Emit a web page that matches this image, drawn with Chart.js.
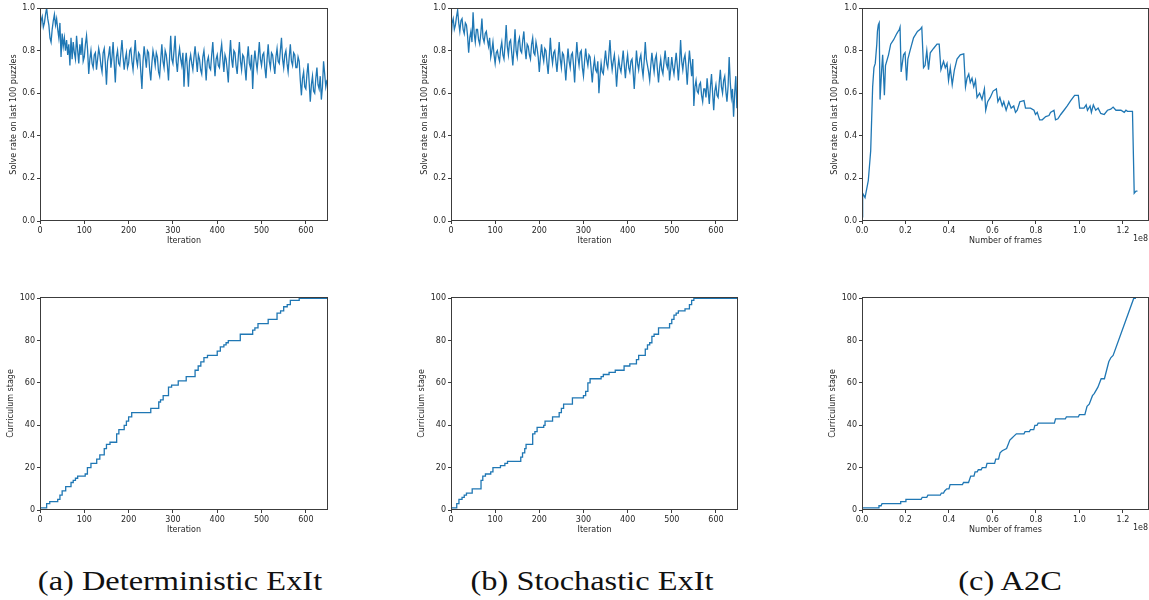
<!DOCTYPE html>
<html>
<head>
<meta charset="utf-8">
<script src="https://cdn.jsdelivr.net/npm/chart.js@4.4.1/dist/chart.umd.min.js"></script>
<style>
  html, body { margin: 0; padding: 0; background: #fff; overflow: hidden; }
  body { width: 1149px; height: 600px; position: relative; }
  canvas { position: absolute; }
  .cap { position: absolute; top: 566px; font-family: 'Liberation Serif', serif; font-size: 27px;
         line-height: 30px; color: #111; white-space: nowrap;
         transform: translateX(-50%) scaleX(1.2); }
</style>
</head>
<body>
<canvas id="detRate" width="330" height="246" style="left:0;top:0"></canvas>
<canvas id="stoRate" width="330" height="246" style="left:411px;top:0"></canvas>
<canvas id="a2cRate" width="327" height="246" style="left:822px;top:0"></canvas>
<canvas id="detStage" width="330" height="246" style="left:0;top:289px"></canvas>
<canvas id="stoStage" width="330" height="246" style="left:411px;top:289px"></canvas>
<canvas id="a2cStage" width="327" height="246" style="left:822px;top:289px"></canvas>
<div class="cap" style="left:180px">(a) Deterministic ExIt</div>
<div class="cap" style="left:592px">(b) Stochastic ExIt</div>
<div class="cap" style="left:1010px">(c) A2C</div>
<script>
/* ===============================
   data
================================ */
const ITER_STEP = 2.5; // solve rate read every 2.5 iterations

const detRate = [
  0.88, 0.94, 0.96, 0.91, 0.93, 0.97, 1.00, 0.95, 0.92, 0.86,
  0.84, 0.90, 0.94, 0.97, 0.92, 0.95, 0.90, 0.86, 0.93, 0.77,
  0.88, 0.82, 0.86, 0.80, 0.85, 0.78, 0.83, 0.73, 0.86, 0.76,
  0.84, 0.79, 0.76, 0.87, 0.80, 0.74, 0.83, 0.78, 0.86, 0.75,
  0.77, 0.83, 0.87, 0.80, 0.69, 0.76, 0.80, 0.74, 0.72, 0.78,
  0.79, 0.71, 0.76, 0.81, 0.78, 0.73, 0.70, 0.79, 0.81, 0.74,
  0.64, 0.75, 0.78, 0.82, 0.72, 0.77, 0.84, 0.74, 0.65, 0.77,
  0.80, 0.74, 0.73, 0.79, 0.85, 0.77, 0.71, 0.76, 0.79, 0.72,
  0.74, 0.80, 0.81, 0.75, 0.71, 0.78, 0.85, 0.76, 0.73, 0.79,
  0.78, 0.70, 0.62, 0.75, 0.82, 0.77, 0.72, 0.80, 0.79, 0.71,
  0.66, 0.74, 0.80, 0.77, 0.73, 0.79, 0.77, 0.70, 0.68, 0.76,
  0.83, 0.75, 0.72, 0.80, 0.78, 0.73, 0.66, 0.77, 0.87, 0.76,
  0.74, 0.80, 0.87, 0.75, 0.70, 0.77, 0.81, 0.76, 0.73, 0.79,
  0.63, 0.74, 0.79, 0.72, 0.63, 0.75, 0.78, 0.74, 0.71, 0.77,
  0.82, 0.76, 0.70, 0.78, 0.76, 0.71, 0.69, 0.77, 0.80, 0.74,
  0.66, 0.75, 0.77, 0.72, 0.71, 0.78, 0.84, 0.75, 0.68, 0.76,
  0.78, 0.73, 0.72, 0.79, 0.83, 0.76, 0.70, 0.78, 0.76, 0.71,
  0.65, 0.77, 0.85, 0.76, 0.72, 0.80, 0.79, 0.73, 0.69, 0.77,
  0.84, 0.75, 0.71, 0.78, 0.77, 0.72, 0.66, 0.76, 0.82, 0.74,
  0.72, 0.78, 0.62, 0.74, 0.80, 0.75, 0.71, 0.77, 0.84, 0.76,
  0.73, 0.78, 0.79, 0.72, 0.67, 0.76, 0.83, 0.75, 0.72, 0.79,
  0.78, 0.73, 0.69, 0.77, 0.81, 0.75, 0.74, 0.80, 0.86, 0.76,
  0.72, 0.78, 0.80, 0.74, 0.70, 0.77, 0.83, 0.75, 0.73, 0.79,
  0.78, 0.72, 0.72, 0.77, 0.75, 0.66, 0.59, 0.67, 0.70, 0.63,
  0.62, 0.69, 0.74, 0.65, 0.56, 0.64, 0.68, 0.61, 0.60, 0.67,
  0.72, 0.64, 0.62, 0.68, 0.57, 0.63, 0.75, 0.69, 0.63, 0.66,
  0.66
];

const stoRate = [
  0.84, 0.93, 0.95, 0.90, 0.92, 0.96, 0.99, 0.93, 0.89, 0.94,
  0.95, 0.90, 0.88, 0.93, 0.92, 0.87, 0.79, 0.86, 0.89, 0.84,
  0.98, 0.88, 0.84, 0.90, 0.90, 0.85, 0.83, 0.88, 0.95, 0.86,
  0.84, 0.88, 0.89, 0.85, 0.82, 0.86, 0.77, 0.80, 0.84, 0.78,
  0.74, 0.79, 0.80, 0.77, 0.75, 0.81, 0.84, 0.78, 0.76, 0.83,
  0.92, 0.82, 0.78, 0.84, 0.85, 0.79, 0.73, 0.81, 0.90, 0.80,
  0.77, 0.84, 0.86, 0.80, 0.79, 0.85, 0.89, 0.81, 0.76, 0.83,
  0.82, 0.78, 0.76, 0.83, 0.86, 0.79, 0.78, 0.84, 0.81, 0.77,
  0.70, 0.77, 0.83, 0.78, 0.75, 0.81, 0.80, 0.74, 0.69, 0.77,
  0.86, 0.78, 0.74, 0.79, 0.80, 0.75, 0.70, 0.77, 0.84, 0.76,
  0.72, 0.79, 0.78, 0.73, 0.66, 0.74, 0.81, 0.75, 0.72, 0.78,
  0.79, 0.73, 0.65, 0.76, 0.84, 0.77, 0.73, 0.79, 0.80, 0.72,
  0.68, 0.75, 0.81, 0.76, 0.73, 0.78, 0.77, 0.71, 0.65, 0.72,
  0.76, 0.71, 0.70, 0.75, 0.60, 0.68, 0.74, 0.70, 0.69, 0.75,
  0.80, 0.74, 0.72, 0.78, 0.85, 0.76, 0.71, 0.75, 0.78, 0.72,
  0.63, 0.71, 0.76, 0.72, 0.70, 0.75, 0.80, 0.73, 0.67, 0.74,
  0.78, 0.72, 0.70, 0.75, 0.76, 0.70, 0.62, 0.71, 0.80, 0.74,
  0.71, 0.76, 0.78, 0.72, 0.68, 0.75, 0.84, 0.76, 0.73, 0.70,
  0.66, 0.73, 0.79, 0.74, 0.70, 0.76, 0.78, 0.71, 0.65, 0.72,
  0.76, 0.71, 0.69, 0.75, 0.80, 0.74, 0.72, 0.77, 0.66, 0.71,
  0.77, 0.72, 0.69, 0.74, 0.79, 0.73, 0.66, 0.74, 0.85, 0.75,
  0.71, 0.76, 0.78, 0.72, 0.64, 0.73, 0.80, 0.74, 0.68, 0.76,
  0.54, 0.63, 0.66, 0.61, 0.60, 0.64, 0.65, 0.59, 0.56, 0.62,
  0.62, 0.58, 0.67, 0.61, 0.55, 0.63, 0.69, 0.60, 0.52, 0.61,
  0.64, 0.59, 0.58, 0.65, 0.71, 0.63, 0.60, 0.66, 0.68, 0.61,
  0.56, 0.63, 0.77, 0.65, 0.58, 0.62, 0.49, 0.60, 0.68, 0.53,
  0.64
];

// A2C, frames in units of 1e8
const a2cFrames = [
  0, 0.003, 0.014, 0.029, 0.040, 0.049, 0.055, 0.061, 0.068, 0.071,
  0.075, 0.079, 0.083, 0.091, 0.095, 0.103, 0.108, 0.122, 0.132, 0.145,
  0.160, 0.172, 0.175, 0.180, 0.191, 0.198, 0.205, 0.211, 0.221, 0.237,
  0.255, 0.268, 0.275, 0.283, 0.290, 0.298, 0.306, 0.314, 0.329, 0.345,
  0.355, 0.363, 0.375, 0.383, 0.391, 0.398, 0.406, 0.415, 0.425, 0.437,
  0.452, 0.468, 0.476, 0.483, 0.491, 0.498, 0.506, 0.514, 0.522, 0.529,
  0.541, 0.552, 0.563, 0.569, 0.578, 0.590, 0.603, 0.618, 0.625, 0.634,
  0.645, 0.652, 0.663, 0.675, 0.686, 0.698, 0.706, 0.714, 0.726, 0.745,
  0.752, 0.775, 0.791, 0.798, 0.806, 0.817, 0.829, 0.845, 0.860, 0.867,
  0.883, 0.890, 0.901, 0.914, 0.929, 0.944, 0.960, 0.978, 0.995, 1.001,
  1.021, 1.031, 1.037, 1.049, 1.055, 1.064, 1.075, 1.086, 1.098, 1.114,
  1.129, 1.144, 1.155, 1.168, 1.191, 1.206, 1.214, 1.221, 1.240, 1.244,
  1.252, 1.260, 1.267
];
const a2cRate = [
  0.02, 0.13, 0.11, 0.19, 0.33, 0.63, 0.72, 0.74, 0.83, 0.89,
  0.92, 0.93, 0.57, 0.72, 0.78, 0.59, 0.73, 0.78, 0.83, 0.85,
  0.88, 0.90, 0.91, 0.70, 0.78, 0.79, 0.66, 0.76, 0.80, 0.86,
  0.89, 0.90, 0.91, 0.72, 0.73, 0.80, 0.71, 0.79, 0.81, 0.83,
  0.83, 0.71, 0.75, 0.72, 0.74, 0.66, 0.72, 0.64, 0.71, 0.76,
  0.78, 0.785, 0.63, 0.67, 0.69, 0.65, 0.67, 0.63, 0.66, 0.58,
  0.60, 0.57, 0.62, 0.52, 0.56, 0.58, 0.61, 0.62, 0.56, 0.58,
  0.54, 0.56, 0.52, 0.56, 0.53, 0.54, 0.51, 0.52, 0.56, 0.565,
  0.53, 0.53, 0.52, 0.50, 0.51, 0.475, 0.475, 0.49, 0.495, 0.51,
  0.52, 0.475, 0.48, 0.50, 0.52, 0.54, 0.565, 0.59, 0.59, 0.53,
  0.53, 0.545, 0.52, 0.54, 0.51, 0.545, 0.52, 0.53, 0.505, 0.50,
  0.52, 0.525, 0.535, 0.52, 0.52, 0.51, 0.52, 0.515, 0.515, 0.515,
  0.13, 0.14, 0.14
];

// curriculum stage, listed where it changes
const detStageIter = [
  0, 15, 22, 40, 45, 50, 58, 70, 75, 80, 85, 102, 107, 115, 128, 135, 145, 150, 158, 173,
  178, 190, 195, 200, 207, 250, 268, 272, 278, 290, 297, 312, 330, 350, 357, 363, 370, 378, 400, 407,
  415, 420, 425, 452, 480, 485, 492, 515, 535, 543, 550, 558, 565, 585, 650
];
const detStage = [
  1, 3, 4, 5, 7, 9, 11, 13, 14, 15, 16, 17, 20, 22, 24, 26, 29, 31, 32, 36,
  38, 40, 42, 44, 46, 48, 51, 52, 54, 58, 59, 61, 63, 66, 68, 70, 72, 73, 75, 77,
  78, 79, 80, 83, 85, 86, 88, 90, 93, 94, 96, 97, 99, 100, 100
];

const stoStageIter = [
  0, 13, 18, 25, 30, 35, 48, 68, 72, 78, 90, 95, 112, 122, 128, 158, 162, 167, 170, 185,
  190, 195, 210, 213, 230, 245, 250, 255, 275, 300, 305, 310, 315, 340, 345, 358, 372, 392, 405, 420,
  425, 440, 445, 450, 455, 460, 470, 495, 500, 505, 510, 515, 530, 540, 545, 550, 650
];
const stoStage = [
  1, 3, 5, 6, 7, 8, 10, 14, 16, 17, 18, 20, 21, 22, 23, 25, 27, 29, 31, 36,
  37, 39, 40, 42, 44, 46, 48, 50, 53, 54, 56, 60, 62, 63, 64, 65, 66, 68, 69, 71,
  73, 76, 78, 79, 82, 83, 86, 88, 90, 92, 93, 94, 95, 97, 99, 100, 100
];

const a2cStageFrames = [
  0, 0.075, 0.078, 0.088, 0.092, 0.175, 0.178, 0.198, 0.202, 0.272,
  0.277, 0.298, 0.303, 0.360, 0.365, 0.375, 0.380, 0.390, 0.400, 0.405,
  0.462, 0.467, 0.490, 0.500, 0.515, 0.520, 0.530, 0.535, 0.548, 0.553,
  0.570, 0.575, 0.610, 0.615, 0.628, 0.635, 0.645, 0.665, 0.680, 0.690,
  0.700, 0.710, 0.745, 0.750, 0.770, 0.775, 0.790, 0.795, 0.805, 0.810,
  0.885, 0.890, 0.935, 0.940, 0.995, 1.000, 1.025, 1.035, 1.045, 1.060,
  1.068, 1.085, 1.100, 1.115, 1.125, 1.135, 1.145, 1.155, 1.250, 1.260
];
const a2cStage = [
  1, 1, 2, 2, 3, 3, 4, 4, 5, 5,
  6, 6, 7, 7, 8, 8, 9, 10, 10, 12,
  12, 13, 13, 16, 16, 18, 18, 19, 19, 20,
  20, 22, 22, 24, 24, 27, 28, 29, 33, 34,
  35, 36, 36, 37, 37, 38, 38, 40, 40, 41,
  41, 43, 43, 44, 44, 45, 45, 49, 50, 54,
  55, 58, 62, 62, 66, 70, 72, 73, 100, 100
];

const iterTicks = [0, 100, 200, 300, 400, 500, 600];
const frameTicks = [0, 0.2, 0.4, 0.6, 0.8, 1.0, 1.2];
const rateTicks = [0, 0.2, 0.4, 0.6, 0.8, 1.0];
const stageTicks = [0, 20, 40, 60, 80, 100];

/* ===============================
   shared style
================================ */
const BLUE = '#1f77b4';
const INK = '#262626';
const FONT = { family: 'DejaVu Sans', size: 8 };

const framePlugin = {
  id: 'frame',
  afterDraw(chart) {
    const { ctx, chartArea: a } = chart;
    ctx.save();
    ctx.strokeStyle = '#3c3c3c';
    ctx.lineWidth = 1;
    ctx.strokeRect(Math.round(a.left) + 0.5, Math.round(a.top) + 0.5,
                   Math.round(a.right - a.left) - 1, Math.round(a.bottom - a.top) - 1);
    ctx.restore();
  }
};

const offsetPlugin = {
  id: 'offsetText',
  afterDraw(chart) {
    const { ctx, chartArea: a } = chart;
    ctx.save();
    ctx.fillStyle = INK;
    ctx.font = '8px "DejaVu Sans"';
    ctx.textAlign = 'right';
    ctx.textBaseline = 'middle';
    ctx.fillText('1e8', a.right - 1, a.bottom + 18);
    ctx.restore();
  }
};

function xAxis(max, ticks, title, fmt) {
  return {
    type: 'linear',
    min: 0,
    max: max,
    afterBuildTicks: s => { s.ticks = ticks.map(v => ({ value: v })); },
    afterFit: s => { s.height = 25; },
    grid: { drawOnChartArea: false, drawTicks: true, tickLength: 3, color: '#3c3c3c' },
    border: { display: false },
    ticks: { color: INK, font: FONT, padding: 2, maxRotation: 0, autoSkip: false, callback: fmt },
    title: { display: true, text: title, color: INK, font: FONT, padding: { top: 0, bottom: 0 } }
  };
}

function yAxis(max, ticks, title, fmt, titlePad) {
  return {
    type: 'linear',
    min: 0,
    max: max,
    afterBuildTicks: s => { s.ticks = ticks.map(v => ({ value: v })); },
    afterFit: s => { s.width = 40; },
    grid: { drawOnChartArea: false, drawTicks: true, tickLength: 3, color: '#3c3c3c' },
    border: { display: false },
    ticks: { color: INK, font: FONT, padding: 2, autoSkip: false, callback: fmt },
    title: { display: true, text: title, color: INK, font: FONT, padding: { top: titlePad, bottom: 0 } }
  };
}

function makeChart(id, points, stepped, x, y, rightPad, extra) {
  return new Chart(document.getElementById(id), {
    type: 'line',
    data: {
      datasets: [{
        data: points,
        borderColor: BLUE,
        backgroundColor: 'transparent',
        borderWidth: 1.3,
        pointRadius: 0,
        tension: 0,
        stepped: stepped
      }]
    },
    options: {
      responsive: false,
      animation: false,
      parsing: false,
      layout: { padding: { top: 8, right: rightPad, bottom: 0, left: 0 } },
      plugins: { legend: { display: false }, tooltip: { enabled: false } },
      scales: { x: x, y: y }
    },
    plugins: [framePlugin].concat(extra || [])
  });
}

const oneDec = v => v.toFixed(1);
const plain = v => String(v);
const rateLabel = 'Solve rate on last 100 puzzles';
const stageLabel = 'Curriculum stage';

/* ===============================
   1. solve rate
================================ */
makeChart('detRate', detRate.map((v, i) => ({ x: i * ITER_STEP, y: v })), false,
  xAxis(650, iterTicks, 'Iteration', plain), yAxis(1, rateTicks, rateLabel, oneDec, 9), 2);

makeChart('stoRate', stoRate.map((v, i) => ({ x: i * ITER_STEP, y: v })), false,
  xAxis(650, iterTicks, 'Iteration', plain), yAxis(1, rateTicks, rateLabel, oneDec, 9), 3);

makeChart('a2cRate', a2cFrames.map((f, i) => ({ x: f, y: a2cRate[i] })), false,
  xAxis(1.32, frameTicks, 'Number of frames', oneDec), yAxis(1, rateTicks, rateLabel, oneDec, 8), 0,
  [offsetPlugin]);

/* ===============================
   2. curriculum stage
================================ */
makeChart('detStage', detStageIter.map((it, i) => ({ x: it, y: detStage[i] })), true,
  xAxis(650, iterTicks, 'Iteration', plain), yAxis(100.6, stageTicks, stageLabel, plain, 6), 2);

makeChart('stoStage', stoStageIter.map((it, i) => ({ x: it, y: stoStage[i] })), true,
  xAxis(650, iterTicks, 'Iteration', plain), yAxis(100.6, stageTicks, stageLabel, plain, 6), 3);

makeChart('a2cStage', a2cStageFrames.map((f, i) => ({ x: f, y: a2cStage[i] })), false,
  xAxis(1.32, frameTicks, 'Number of frames', oneDec), yAxis(100.6, stageTicks, stageLabel, plain, 6), 0,
  [offsetPlugin]);
</script>
</body>
</html>
